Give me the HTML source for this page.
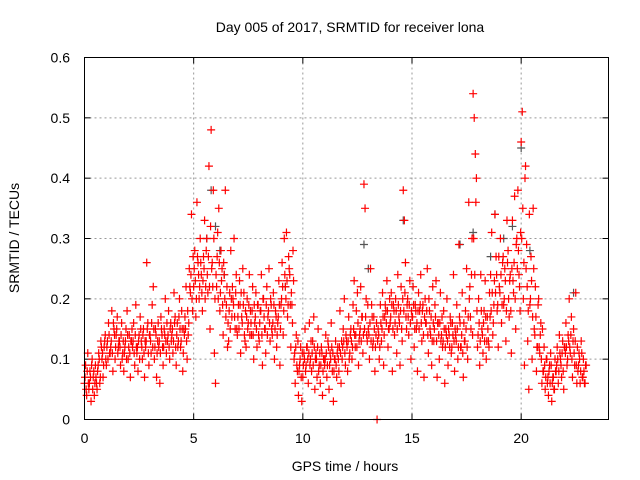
<!DOCTYPE html>
<html><head><meta charset="utf-8"><style>
body{margin:0;background:#fff;}
svg{display:block;font-family:"Liberation Sans",sans-serif;}
</style></head><body>
<svg id="chart" width="640" height="480">
<text x="350" y="32" text-anchor="middle" font-size="14">Day 005 of 2017, SRMTID for receiver lona</text>
<text x="345" y="471" text-anchor="middle" font-size="14">GPS time / hours</text>
<text transform="translate(19,238) rotate(-90)" text-anchor="middle" font-size="14">SRMTID / TECUs</text>
<g id="grid"></g><g id="axes"></g><g id="pts"></g>
<rect x="84.5" y="57.5" width="524" height="362" fill="none" stroke="#000" stroke-width="1"/>
</svg>
<script>
const xTicks=[0,5,10,15,20];
const yTicks=[0,0.1,0.2,0.3,0.4,0.5,0.6];
const yTickLabels=["0","0.1","0.2","0.3","0.4","0.5","0.6"];
const hours=[0.0,0.2,0.4,0.6,0.8,1.0,1.2,1.4,1.6,1.8,2.0,2.2,2.4,2.6,2.8,3.0,3.2,3.4,3.6,3.8,4.0,4.2,4.4,4.6,4.8,5.0,5.2,5.4,5.6,5.8,6.0,6.2,6.4,6.6,6.8,7.0,7.2,7.4,7.6,7.8,8.0,8.2,8.4,8.6,8.8,9.0,9.2,9.4,9.6,9.8,10.0,10.2,10.4,10.6,10.8,11.0,11.2,11.4,11.6,11.8,12.0,12.2,12.4,12.6,12.8,13.0,13.2,13.4,13.6,13.8,14.0,14.2,14.4,14.6,14.8,15.0,15.2,15.4,15.6,15.8,16.0,16.2,16.4,16.6,16.8,17.0,17.2,17.4,17.6,17.8,18.0,18.2,18.4,18.6,18.8,19.0,19.2,19.4,19.6,19.8,20.0,20.2,20.4,20.6,20.8,21.0,21.2,21.4,21.6,21.8,22.0,22.2,22.4,22.6,22.8];
const srmtid=[
[.06,.09,.04,.11],[.05,.08,.03,.10],[.07,.04,.09,.06],[.08,.11,.06,.13],[.10,.07,.12,.14],
[.09,.13,.16,.11],[.12,.18,.08,.15],[.10,.14,.17,.12],[.13,.09,.16,.11],[.08,.12,.15,.18],
[.10,.14,.07,.13],[.12,.16,.09,.19],[.11,.08,.14,.17],[.13,.10,.15,.07],[.12,.26,.16,.09],
[.14,.11,.19,.22],[.10,.15,.07,.13],[.12,.06,.17,.14],[.09,.15,.20,.11],[.13,.18,.10,.16],
[.14,.11,.21,.17],[.09,.16,.13,.20],[.12,.18,.08,.15],[.17,.22,.10,.14],[.25,.21,.34,.18],
[.22,.28,.17,.36],[.26,.20,.30,.24],[.18,.27,.33,.22],[.30,.21,.42,.15],[.48,.26,.38,.11],
[.06,.22,.31,.35],[.18,.28,.25,.14],[.24,.38,.19,.12],[.13,.21,.28,.17],[.20,.30,.15,.24],
[.14,.19,.23,.11],[.17,.25,.21,.13],[.12,.20,.16,.24],[.18,.14,.22,.10],[.16,.21,.12,.19],
[.13,.18,.24,.09],[.20,.15,.11,.22],[.17,.25,.13,.19],[.14,.21,.10,.18],[.12,.16,.23,.09],
[.19,.26,.14,.30],[.22,.31,.17,.27],[.24,.12,.19,.28],[.10,.06,.14,.08],[.04,.09,.12,.03],
[.07,.11,.15,.09],[.12,.06,.16,.10],[.08,.13,.17,.05],[.11,.07,.15,.09],[.06,.12,.04,.10],
[.09,.14,.07,.13],[.05,.11,.16,.08],[.03,.10,.13,.07],[.12,.08,.18,.06],[.10,.15,.20,.09],
[.13,.08,.17,.11],[.15,.10,.19,.23],[.12,.18,.21,.09],[.14,.22,.17,.11],[.39,.35,.20,.13],
[.15,.10,.25,.19],[.12,.17,.08,.14],[.00,.15,.10,.19],[.13,.21,.09,.17],[.18,.23,.12,.15],
[.16,.21,.08,.19],[.14,.20,.11,.24],[.17,.09,.22,.13],[.38,.33,.26,.15],[.20,.14,.23,.10],
[.17,.22,.12,.19],[.15,.08,.21,.18],[.24,.13,.19,.07],[.20,.16,.25,.11],[.18,.14,.09,.22],
[.13,.19,.23,.07],[.16,.10,.21,.14],[.12,.18,.06,.15],[.20,.09,.14,.17],[.11,.16,.24,.08],
[.14,.19,.10,.29],[.16,.12,.21,.07],[.13,.18,.25,.10],[.36,.22,.15,.30],[.54,.50,.44,.40],
[.12,.20,.09,.24],[.15,.11,.18,.23],[.10,.17,.13,.21],[.24,.31,.14,.19],[.34,.27,.18,.12],
[.22,.30,.16,.26],[.19,.25,.13,.33],[.28,.17,.24,.11],[.33,.21,.37,.15],[.30,.38,.24,.18],
[.46,.51,.20,.09],[.42,.29,.13,.05],[.19,.27,.10,.35],[.15,.22,.08,.12],[.20,.11,.16,.06],
[.08,.12,.05,.10],[.06,.04,.09,.11],[.03,.07,.05,.10],[.08,.12,.06,.14],[.10,.07,.13,.05],
[.12,.16,.09,.14],[.20,.11,.17,.07],[.15,.09,.21,.06],[.08,.11,.06,.13],[.07,.10,.06,.09]];
const srmtid2=[
[.07,.05,.08,.06],[.06,.07,.09,.05],[.08,.06,.07,.05],[.09,.10,.07,.12],[.11,.09,.13,.10],
[.12,.10,.14,.11],[.13,.11,.16,.14],[.12,.15,.11,.13],[.12,.14,.10,.13],[.11,.13,.10,.14],
[.12,.11,.13,.15],[.13,.11,.14,.12],[.12,.13,.10,.15],[.12,.14,.11,.13],[.13,.15,.11,.14],
[.13,.16,.12,.15],[.12,.14,.11,.16],[.13,.11,.15,.12],[.12,.14,.13,.16],[.14,.12,.15,.13],
[.15,.13,.16,.12],[.14,.12,.17,.15],[.13,.15,.11,.14],[.15,.13,.18,.16],[.22,.24,.20,.27],
[.25,.23,.20,.27],[.24,.22,.26,.21],[.23,.25,.20,.28],[.24,.27,.22,.32],[.25,.22,.30,.20],
[.24,.27,.20,.26],[.21,.23,.19,.26],[.20,.17,.22,.16],[.18,.15,.20,.22],[.19,.17,.21,.15],
[.17,.15,.19,.21],[.16,.19,.14,.18],[.17,.15,.19,.14],[.16,.18,.14,.19],[.17,.15,.19,.14],
[.16,.18,.14,.20],[.17,.15,.19,.14],[.18,.16,.20,.15],[.16,.19,.15,.17],[.14,.17,.19,.15],
[.20,.22,.18,.24],[.20,.23,.19,.25],[.19,.21,.16,.23],[.11,.12,.09,.13],[.08,.10,.07,.11],
[.09,.10,.08,.12],[.10,.11,.09,.13],[.11,.09,.12,.10],[.10,.12,.08,.11],[.09,.11,.08,.10],
[.10,.11,.09,.12],[.09,.10,.12,.11],[.08,.10,.09,.11],[.10,.12,.11,.13],[.12,.13,.11,.14],
[.12,.13,.10,.14],[.13,.12,.15,.14],[.14,.12,.16,.13],[.15,.13,.17,.14],[.15,.17,.14,.19],
[.14,.16,.13,.17],[.13,.15,.12,.16],[.13,.14,.12,.16],[.15,.17,.14,.19],[.16,.18,.15,.20],
[.17,.19,.15,.18],[.16,.18,.15,.19],[.16,.18,.15,.20],[.18,.21,.17,.19],[.17,.19,.16,.18],
[.17,.19,.15,.18],[.16,.18,.15,.19],[.16,.18,.14,.17],[.16,.18,.14,.20],[.15,.17,.13,.16],
[.15,.17,.13,.16],[.14,.16,.13,.17],[.13,.15,.12,.14],[.13,.15,.12,.16],[.12,.14,.13,.15],
[.13,.15,.12,.17],[.12,.14,.11,.16],[.13,.15,.12,.17],[.20,.17,.24,.14],[.30,.24,.36,.18],
[.14,.16,.13,.18],[.14,.16,.13,.17],[.13,.15,.12,.17],[.18,.21,.16,.23],[.21,.24,.19,.27],
[.21,.24,.19,.27],[.20,.23,.18,.26],[.20,.23,.18,.25],[.23,.26,.20,.29],[.25,.28,.22,.31],
[.30,.35,.26,.40],[.25,.22,.18,.34],[.20,.23,.17,.25],[.14,.17,.12,.19],[.12,.14,.10,.15],
[.08,.09,.07,.10],[.07,.08,.06,.09],[.06,.07,.05,.08],[.09,.10,.08,.11],[.09,.11,.08,.12],
[.11,.12,.10,.13],[.12,.14,.10,.13],[.11,.13,.09,.12],[.09,.10,.08,.11],[.07,.08,.06,.09]];
const greyHours=[5.6,5.8,6.0,6.2,6.4,9.2,12.8,13.0,14.6,17.2,17.8,18.6,18.8,19.2,19.6,20.0,20.4,22.4];
const greyVals=[0.30,0.38,0.32,0.28,0.24,0.22,0.29,0.25,0.33,0.29,0.31,0.27,0.34,0.30,0.32,0.45,0.28,0.21];
const X0=84.5,X1=608.5,Y0=419.5,Y1=57.5,XMAX=24,YMAX=0.6;
function xs(v){return X0+(X1-X0)*v/XMAX;}
function ys(v){return Y0-(Y0-Y1)*v/YMAX;}
const NS="http://www.w3.org/2000/svg";
const grid=document.getElementById('grid'),axes=document.getElementById('axes'),pts=document.getElementById('pts');
function mk(tag,attrs,parent){const e=document.createElementNS(NS,tag);for(const k in attrs)e.setAttribute(k,attrs[k]);parent.appendChild(e);return e;}
xTicks.forEach(t=>{
  const x=xs(t);
  if(t>0){const g=mk('line',{x1:x,y1:Y0,x2:x,y2:Y1,stroke:'#999','stroke-dasharray':'2,3'},grid);
  
  }
  mk('line',{x1:x,y1:Y0,x2:x,y2:Y0-6,stroke:'#000'},axes);
  mk('line',{x1:x,y1:Y1,x2:x,y2:Y1+6,stroke:'#000'},axes);
  const l=mk('text',{x:x,y:443,'text-anchor':'middle','font-size':14},axes);l.textContent=t;
  
  
});
yTicks.forEach((t,i)=>{
  const y=ys(t);
  if(t>0&&t<YMAX){const g=mk('line',{x1:X0,y1:y,x2:X1,y2:y,stroke:'#999','stroke-dasharray':'2,3'},grid);
  
  }
  mk('line',{x1:X0,y1:y,x2:X0+6,y2:y,stroke:'#000'},axes);
  mk('line',{x1:X1,y1:y,x2:X1-6,y2:y,stroke:'#000'},axes);
  const l=mk('text',{x:70,y:y+5,'text-anchor':'end','font-size':14},axes);l.textContent=yTickLabels[i];
  
  
});
function plus(h,v,col){
  const x=xs(h),y=ys(v);
  return mk('path',{d:`M${x-4},${y}H${x+4}M${x},${y-4}V${y+4}`,stroke:col,'stroke-width':1.2,fill:'none'},pts);
}
greyHours.forEach((h,i)=>{
  const p=plus(h,greyVals[i],'#555');
  
  
});
hours.forEach((h,i)=>{
  srmtid[i].forEach((v,j)=>{
    const p=plus(h+j*0.05,v,'#f00');
    
    
  });
  srmtid2[i].forEach((v,j)=>{
    const p=plus(h+0.025+j*0.05,v,'#f00');
    
    
  });
});
</script>
</body></html>
